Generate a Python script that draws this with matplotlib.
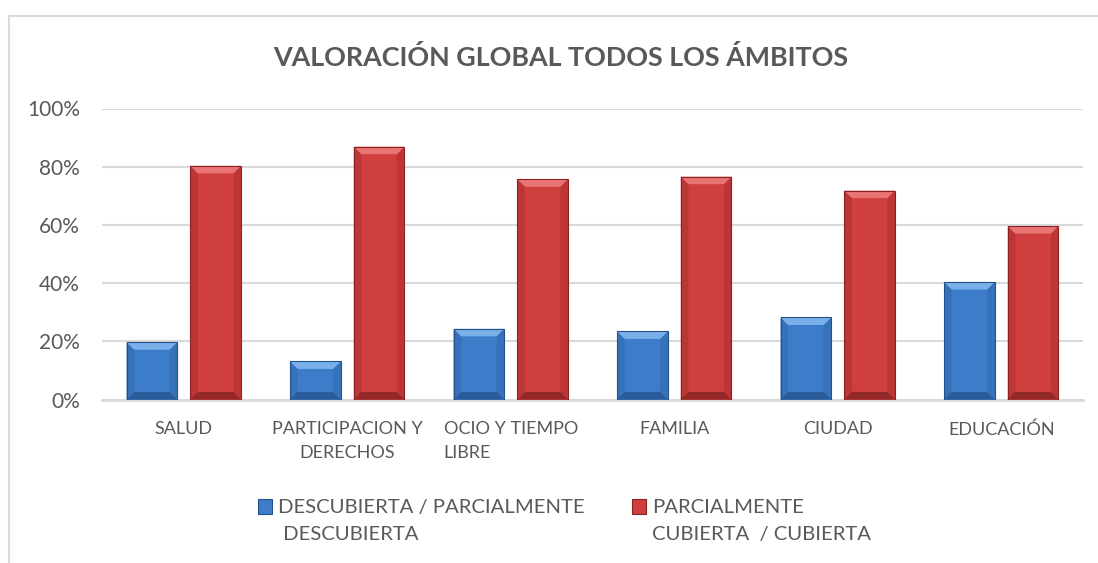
import matplotlib
matplotlib.use("Agg")
import matplotlib.pyplot as plt
from matplotlib.patches import Polygon, Rectangle
from matplotlib.ticker import PercentFormatter
import numpy as np

categories = ["SALUD", "PARTICIPACION Y\nDERECHOS", "OCIO Y TIEMPO\nLIBRE", "FAMILIA", "CIUDAD", "EDUCACIÓN"]
descubierta = [19.7, 13.1, 24.3, 23.4, 28.2, 40.4]
cubierta = [80.3, 86.9, 75.7, 76.6, 71.8, 59.6]
series_names = ["DESCUBIERTA / PARCIALMENTE\n DESCUBIERTA", "PARCIALMENTE\nCUBIERTA  / CUBIERTA"]
yticks = [0, 20, 40, 60, 80, 100]
title = "VALORACIÓN GLOBAL TODOS LOS ÁMBITOS"

FONT = "Lato"
TXT = "#595959"
blue = dict(face="#3d7cc9", top="#79b0ea", bottom="#2b5c9a", side="#3671b9", edge="#25518a")
red = dict(face="#cf3f3f", top="#e97474", bottom="#922828", side="#bd3636", edge="#8a2222")

W, H = 1098, 563
fig = plt.figure(figsize=(W / 100, H / 100), dpi=100)
ax = fig.add_axes([102 / W, 1 - 399.5 / H, (1083 - 102) / W, (399.5 - 108.5) / H])

x = np.arange(len(categories))
bw = 0.31
off = 0.195
b1 = ax.bar(x - off, descubierta, bw, color=blue["face"], zorder=3, linewidth=0)
b2 = ax.bar(x + off, cubierta, bw, color=red["face"], zorder=3, linewidth=0)

# bevel effect derived from bar geometry
def bevel(bars, c):
    for p in bars:
        x0, w, h = p.get_x(), p.get_width(), p.get_height()
        dx = w * 0.15
        dy = 2.6 if h > 6 else h * 0.3
        x1 = x0 + w
        ax.add_patch(Polygon([(x0, 0), (x0 + dx, dy), (x0 + dx, h - dy), (x0, h)],
                             closed=True, color=c["side"], zorder=4, lw=0))
        ax.add_patch(Polygon([(x1, 0), (x1 - dx, dy), (x1 - dx, h - dy), (x1, h)],
                             closed=True, color=c["side"], zorder=4, lw=0))
        ax.add_patch(Polygon([(x0, h), (x1, h), (x1 - dx, h - dy), (x0 + dx, h - dy)],
                             closed=True, color=c["top"], zorder=4, lw=0))
        ax.add_patch(Polygon([(x0, 0), (x1, 0), (x1 - dx, dy), (x0 + dx, dy)],
                             closed=True, color=c["bottom"], zorder=4, lw=0))
        ax.add_patch(Rectangle((x0, 0), w, h, fill=False, ec=c["edge"], lw=0.8, zorder=5))

bevel(b1, blue)
bevel(b2, red)

ax.set_xlim(-0.5, len(categories) - 0.5)
ax.set_ylim(0, 100)
ax.set_yticks(yticks)
ax.yaxis.set_major_formatter(PercentFormatter(decimals=0))
ax.grid(axis="y", color="#d9d9d9", lw=1.5, zorder=0)
for s in ["top", "right", "left"]:
    ax.spines[s].set_visible(False)
ax.spines["bottom"].set_color("#d9d9d9")
ax.spines["bottom"].set_linewidth(2)
ax.spines["bottom"].set_zorder(2)
ax.tick_params(axis="both", length=0, colors=TXT)
ax.tick_params(axis="y", pad=16, labelsize=15)
ax.tick_params(axis="x", pad=15.5, labelsize=13)
ax.set_xticks(x)
ax.set_xticklabels(categories, fontfamily=FONT, linespacing=1.6)
for lab in ax.get_xticklabels():
    lab.set_multialignment("center")
ax.get_xticklabels()[2].set_multialignment("left")
for lab in ax.get_yticklabels():
    lab.set_fontfamily(FONT)

fig.text(561 / W, 1 - 57 / H, title, ha="center", va="center", fontsize=19.4,
         fontweight="bold", color=TXT, fontfamily=FONT)

# legend
for (mx, name, c) in [(258, series_names[0], blue), (632, series_names[1], red)]:
    fig.patches.append(Rectangle((mx / W, 1 - 514 / H), 14 / W, 15 / H,
                                 transform=fig.transFigure, color=c["face"], ec=c["edge"], lw=0.8))
    fig.text((mx + 20) / W, 1 - 499 / H, name, ha="left", va="top", fontsize=14.6,
             color=TXT, fontfamily=FONT, linespacing=1.68)

# outer frame (top and left)
fig.lines.append(plt.Line2D([9 / W, 9 / W], [0, 1 - 16 / H], transform=fig.transFigure, color="#d9d9d9", lw=1.5))
fig.lines.append(plt.Line2D([9 / W, 1], [1 - 16 / H, 1 - 16 / H], transform=fig.transFigure, color="#d9d9d9", lw=1.5))

fig.savefig("out.png", dpi=100)
